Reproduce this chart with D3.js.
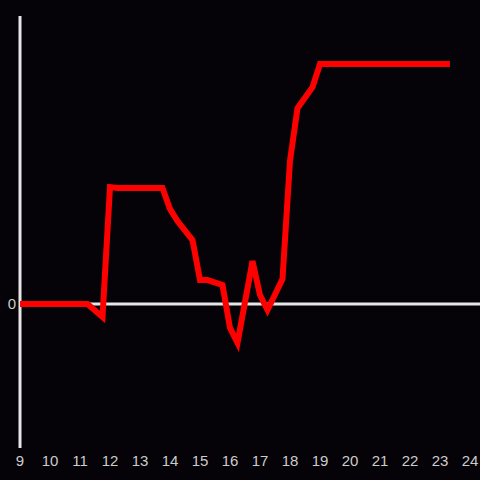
<!DOCTYPE html>
<html>
<head>
<meta charset="utf-8">
<script src="https://cdn.jsdelivr.net/npm/d3@7"></script>
<style>
  html, body { margin: 0; padding: 0; background: #050307; }
  svg { display: block; }
</style>
</head>
<body>
<div id="chart"></div>
<script>
// hours of day (x) and values (y)
const hours = [9, 11.25, 11.75, 12, 12.25, 13.75, 14, 14.25, 14.75, 15, 15.25, 15.75, 16, 16.25, 16.75, 17, 17.25, 17.75, 18, 18.25, 18.75, 19, 23.33];
const values = [0, 0, -4.5, 40.6, 40.3, 40.3, 33, 28.8, 22.2, 8.3, 8.3, 6.6, -8.3, -13.5, 14.9, 3.1, -2.1, 8.7, 49.7, 68, 75.3, 83.3, 83.3];
const xTicks = [9, 10, 11, 12, 13, 14, 15, 16, 17, 18, 19, 20, 21, 22, 23, 24];
const yTicks = [0];

const W = 480, H = 480;
const svg = d3.select('#chart').append('svg').attr('width', W).attr('height', H)
  .style('background', '#050307');

const x = d3.scaleLinear().domain([9, 24]).range([20, 470]);
const y = d3.scaleLinear().domain([-50, 100]).range([448, 16]);

// zero line
svg.append('line')
  .attr('x1', x(9)).attr('x2', W)
  .attr('y1', y(0)).attr('y2', y(0))
  .attr('stroke', '#e6e6e6').attr('stroke-width', 3);

// y axis line
svg.append('line')
  .attr('x1', x(9)).attr('x2', x(9))
  .attr('y1', 16).attr('y2', 448)
  .attr('stroke', '#e6e6e6').attr('stroke-width', 3);

svg.append('g').selectAll('text')
  .data(yTicks)
  .join('text')
  .attr('x', 12).attr('y', (d) => y(d) + 5)
  .attr('text-anchor', 'middle')
  .attr('font-family', 'Liberation Sans, Arial, sans-serif')
  .attr('font-size', 15)
  .attr('fill', '#cccccc')
  .text((d) => d);

svg.append('g').selectAll('text')
  .data(xTicks)
  .join('text')
  .attr('x', (d) => x(d)).attr('y', 466)
  .attr('text-anchor', 'middle')
  .attr('font-family', 'Liberation Sans, Arial, sans-serif')
  .attr('font-size', 15)
  .attr('fill', '#cccccc')
  .text((d) => d);

const pts = hours.map((h, i) => [h, values[i]]);
svg.append('path')
  .datum(pts)
  .attr('fill', 'none')
  .attr('stroke', '#ff0000')
  .attr('stroke-width', 6)
  .attr('d', d3.line().x((d) => x(d[0])).y((d) => y(d[1])));
</script>
</body>
</html>
